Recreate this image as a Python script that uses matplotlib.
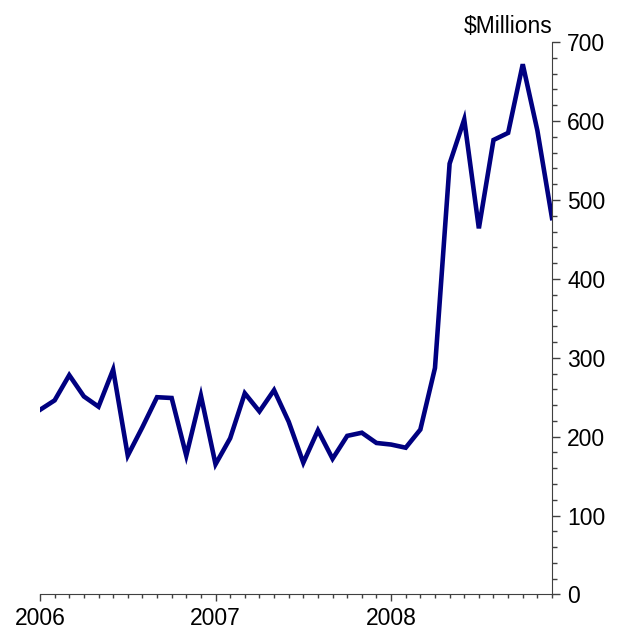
import numpy as np
import matplotlib
matplotlib.use('Agg')
import matplotlib.pyplot as plt
from matplotlib.ticker import MultipleLocator, FixedLocator

plt.rcParams['font.family'] = ['Liberation Sans', 'DejaVu Sans']

# monthly values, Jan 2006 - Dec 2008 ($ millions)
values = [234, 246, 278, 251, 238, 285, 176, 212, 250, 249, 176, 252,
          165, 198, 255, 232, 259, 219, 167, 208, 172, 201, 205, 192,
          190, 186, 209, 287, 546, 602, 464, 576, 585, 672, 588, 477]
year_labels = ['2006', '2007', '2008']
unit_label = '$Millions'

months = np.arange(len(values))

fig = plt.figure(figsize=(6.21, 6.30), dpi=100)
ax = fig.add_axes([0.0644, 0.0564, 0.8245, 0.8767])

ax.plot(months, values, color='#000080', lw=3.3, solid_joinstyle='miter')

ax.set_xlim(0, len(values) - 1)
ax.set_ylim(0, 700)

# axes look
for side in ['left', 'top']:
    ax.spines[side].set_visible(False)
ax.spines['right'].set_color('#404040')
ax.spines['bottom'].set_color('#404040')

ax.yaxis.tick_right()
ax.yaxis.set_major_locator(MultipleLocator(100))
ax.yaxis.set_minor_locator(MultipleLocator(20))
ax.xaxis.set_major_locator(FixedLocator([0, 12, 24]))
ax.xaxis.set_minor_locator(MultipleLocator(1))
ax.set_xticklabels(year_labels)

ax.tick_params(axis='y', which='major', direction='out', length=5.8,
               width=1, color='#404040', labelsize=16.5, pad=5)
ax.tick_params(axis='y', which='minor', direction='out', length=3.6,
               width=1, color='#404040')
ax.tick_params(axis='x', which='major', direction='out', length=5,
               width=1, color='#404040', labelsize=16.5, pad=4)
ax.tick_params(axis='x', which='minor', direction='out', length=3,
               width=1, color='#404040')
ax.tick_params(axis='y', which='both', right=True, left=False)

ax.text(1.0, 1.008, unit_label, transform=ax.transAxes, ha='right',
        va='bottom', fontsize=16.5)

fig.savefig('out.png', dpi=100)
